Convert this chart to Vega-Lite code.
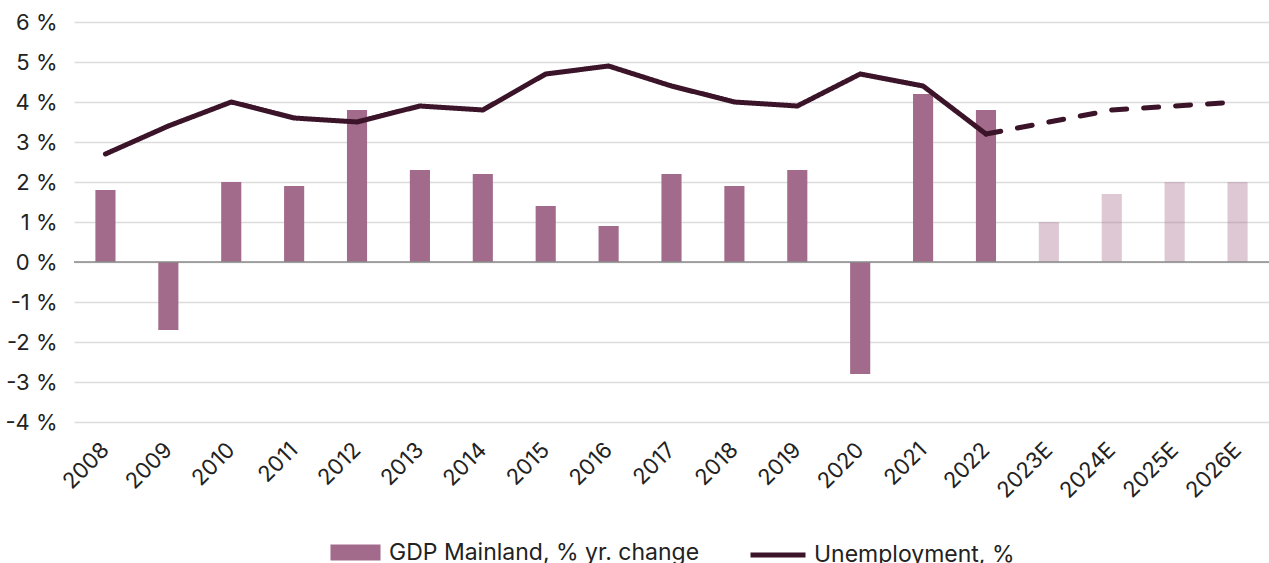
{
  "$schema": "https://vega.github.io/schema/vega-lite/v6.json",
  "width": 1195,
  "height": 400,
  "autosize": {"type": "none"},
  "padding": {"left": 74, "top": 22, "right": 0, "bottom": 141},
  "background": "white",
  "datasets": {
    "gdp": [
      {"year": "2008", "gdp": 1.8, "forecast": false},
      {"year": "2009", "gdp": -1.7, "forecast": false},
      {"year": "2010", "gdp": 2.0, "forecast": false},
      {"year": "2011", "gdp": 1.9, "forecast": false},
      {"year": "2012", "gdp": 3.8, "forecast": false},
      {"year": "2013", "gdp": 2.3, "forecast": false},
      {"year": "2014", "gdp": 2.2, "forecast": false},
      {"year": "2015", "gdp": 1.4, "forecast": false},
      {"year": "2016", "gdp": 0.9, "forecast": false},
      {"year": "2017", "gdp": 2.2, "forecast": false},
      {"year": "2018", "gdp": 1.9, "forecast": false},
      {"year": "2019", "gdp": 2.3, "forecast": false},
      {"year": "2020", "gdp": -2.8, "forecast": false},
      {"year": "2021", "gdp": 4.2, "forecast": false},
      {"year": "2022", "gdp": 3.8, "forecast": false},
      {"year": "2023E", "gdp": 1.0, "forecast": true},
      {"year": "2024E", "gdp": 1.7, "forecast": true},
      {"year": "2025E", "gdp": 2.0, "forecast": true},
      {"year": "2026E", "gdp": 2.0, "forecast": true}
    ],
    "unemp": [
      {"year": "2008", "unemp": 2.7, "seg": "actual"},
      {"year": "2009", "unemp": 3.4, "seg": "actual"},
      {"year": "2010", "unemp": 4.0, "seg": "actual"},
      {"year": "2011", "unemp": 3.6, "seg": "actual"},
      {"year": "2012", "unemp": 3.5, "seg": "actual"},
      {"year": "2013", "unemp": 3.9, "seg": "actual"},
      {"year": "2014", "unemp": 3.8, "seg": "actual"},
      {"year": "2015", "unemp": 4.7, "seg": "actual"},
      {"year": "2016", "unemp": 4.9, "seg": "actual"},
      {"year": "2017", "unemp": 4.4, "seg": "actual"},
      {"year": "2018", "unemp": 4.0, "seg": "actual"},
      {"year": "2019", "unemp": 3.9, "seg": "actual"},
      {"year": "2020", "unemp": 4.7, "seg": "actual"},
      {"year": "2021", "unemp": 4.4, "seg": "actual"},
      {"year": "2022", "unemp": 3.2, "seg": "actual"},
      {"year": "2022", "unemp": 3.2, "seg": "forecast"},
      {"year": "2023E", "unemp": 3.5, "seg": "forecast"},
      {"year": "2024E", "unemp": 3.8, "seg": "forecast"},
      {"year": "2025E", "unemp": 3.9, "seg": "forecast"},
      {"year": "2026E", "unemp": 4.0, "seg": "forecast"}
    ],
    "zero": [{"v": 0}]
  },
  "encoding": {
    "x": {
      "field": "year",
      "type": "ordinal",
      "sort": ["2008","2009","2010","2011","2012","2013","2014","2015","2016","2017","2018","2019","2020","2021","2022","2023E","2024E","2025E","2026E"],
      "scale": {"paddingInner": 0.68, "paddingOuter": 0.34},
      "axis": {
        "title": null,
        "labelAngle": -45,
        "labelAlign": "right",
        "labelBaseline": "middle",
        "labelPadding": 24,
        "labelFontSize": 22,
        "labelOverlap": false,
        "ticks": false,
        "domain": false,
        "grid": false
      }
    },
    "y": {
      "type": "quantitative",
      "scale": {"domain": [-4, 6], "nice": false, "zero": true},
      "axis": {
        "title": null,
        "values": [-4,-3,-2,-1,0,1,2,3,4,5,6],
        "labelExpr": "datum.value + ' %'",
        "labelOverlap": false,
        "labelFontSize": 22,
        "ticks": false,
        "domain": false,
        "grid": true,
        "gridColor": "#DCDCDC",
        "gridWidth": 1.5,
        "labelPadding": 17
      }
    }
  },
  "layer": [
    {
      "data": {"name": "gdp"},
      "mark": {"type": "bar"},
      "encoding": {
        "y": {
          "field": "gdp",
          "type": "quantitative",
          "scale": {"domain": [-4, 6], "nice": false, "zero": true},
          "axis": {
            "title": null,
            "values": [-4,-3,-2,-1,0,1,2,3,4,5,6],
            "labelExpr": "datum.value + ' %'",
            "labelOverlap": false,
            "labelFontSize": 22,
            "ticks": false,
            "domain": false,
            "grid": true,
            "gridColor": "#DCDCDC",
            "gridWidth": 1.5,
            "labelPadding": 17
          }
        },
        "fill": {
          "datum": "GDP Mainland, % yr. change",
          "type": "nominal",
          "scale": {"domain": ["GDP Mainland, % yr. change"], "range": ["#A36B8B"]},
          "legend": {
            "title": null,
            "orient": "bottom",
            "symbolType": "M-0.91,-0.29H0.91V0.29H-0.91Z",
            "symbolSize": 3025,
            "symbolStrokeWidth": 0,
            "labelOffset": 6,
            "offset": 23
          }
        },
        "opacity": {
          "condition": {"test": "datum.forecast", "value": 0.37},
          "value": 1
        }
      }
    },
    {
      "data": {"name": "zero"},
      "mark": {"type": "rule", "color": "#8A8A8A", "strokeWidth": 1.5},
      "encoding": {"y": {"field": "v", "type": "quantitative"}, "x": null}
    },
    {
      "data": {"name": "unemp"},
      "mark": {"type": "line", "strokeWidth": 5, "strokeCap": "round", "strokeJoin": "round"},
      "encoding": {
        "y": {
          "field": "unemp",
          "type": "quantitative",
          "scale": {"domain": [-4, 6], "nice": false, "zero": true},
          "axis": {
            "title": null,
            "values": [-4,-3,-2,-1,0,1,2,3,4,5,6],
            "labelExpr": "datum.value + ' %'",
            "labelOverlap": false,
            "labelFontSize": 22,
            "ticks": false,
            "domain": false,
            "grid": true,
            "gridColor": "#DCDCDC",
            "gridWidth": 1.5,
            "labelPadding": 17
          }
        },
        "detail": {"field": "seg", "type": "nominal"},
        "stroke": {
          "datum": "Unemployment, %",
          "type": "nominal",
          "scale": {"domain": ["Unemployment, %"], "range": ["#3B1429"]},
          "legend": {
            "title": null,
            "orient": "bottom",
            "symbolType": "stroke",
            "symbolSize": 3025,
            "symbolStrokeWidth": 5,
            "labelOffset": 6,
            "offset": 23
          }
        },
        "strokeDash": {
          "field": "seg",
          "type": "nominal",
          "scale": {"domain": ["actual", "forecast"], "range": [[1, 0], [15, 17]]},
          "legend": null
        }
      }
    }
  ],
  "resolve": {"scale": {"fill": "independent", "stroke": "independent"}},
  "config": {
    "view": {"stroke": null},
    "font": "Inter",
    "axis": {"labelFont": "Inter", "labelFontSize": 22, "labelColor": "#222222"},
    "legend": {
      "labelFont": "Inter",
      "labelFontSize": 23,
      "labelColor": "#222222",
      "labelLimit": 600,
      "layout": {"bottom": {"anchor": "middle", "direction": "horizontal", "margin": 48}}
    }
  }
}
